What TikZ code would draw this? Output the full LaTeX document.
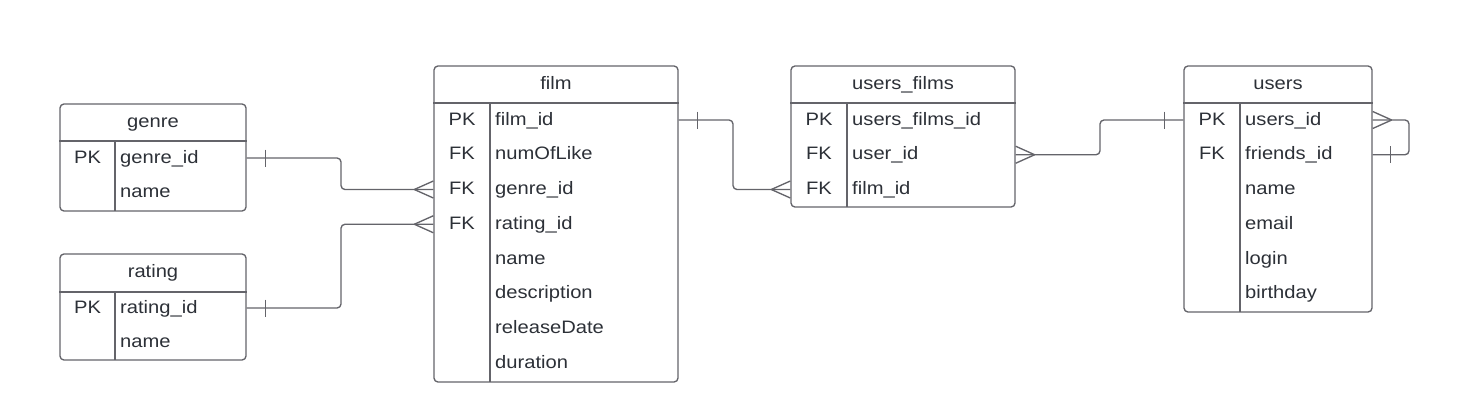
\documentclass[tikz,border=0pt]{standalone}
\usepackage{fontspec}
\setmainfont{Liberation Sans}[FakeStretch=1.12]
\usetikzlibrary{calc}
\definecolor{linec}{RGB}{100,100,106}
\definecolor{txtc}{RGB}{44,48,55}
\begin{document}
\begin{tikzpicture}[x=1pt,y=-1pt,
  tbl/.style={draw=linec,line width=1.35pt,rounded corners=4pt,inner sep=0pt},
  sep/.style={draw=linec,line width=1.35pt},
  conn/.style={draw=linec,line width=1.35pt,rounded corners=4pt},
  hdr/.style={anchor=base,inner sep=0pt,text=txtc,font=\fontsize{18}{21}\selectfont},
  fld/.style={anchor=west,inner sep=0pt,text height=14pt,text depth=4pt,text=txtc,font=\fontsize{18}{21}\selectfont},
  key/.style={anchor=center,inner sep=0pt,text height=14pt,text depth=4pt,text=txtc,font=\fontsize{18}{21}\selectfont},
  crow/.pic={\draw[conn] (-19,0) -- (0,8.5) (-19,0) -- (0,-8.5);},
  bar/.pic={\draw[conn] (0,-8.5) -- (0,8.5);}
]
\useasboundingbox (0,0) rectangle (1482,407);

% ---------- genre ----------
\node[tbl,minimum width=186pt,minimum height=107pt] (genre) at (153,157.5) {};
\draw[sep] (genre.west |- 0,141) -- (genre.east |- 0,141);
\draw[sep] (115,141) -- (115,211);
\node[hdr] (genreh) at (153,127) {genre};
\node[key] (gk1) at (87.5,158) {PK};
\node[fld] (g1) at (120,158) {genre\_id};
\node[fld] (g2) at (120,192.75) {name};

% ---------- rating ----------
\node[tbl,minimum width=186pt,minimum height=106pt] (rating) at (153,307) {};
\draw[sep] (rating.west |- 0,292) -- (rating.east |- 0,292);
\draw[sep] (115,292) -- (115,360);
\node[hdr] (ratingh) at (153,277.5) {rating};
\node[key] (rk1) at (87.5,308) {PK};
\node[fld] (r1) at (120,308) {rating\_id};
\node[fld] (r2) at (120,342.75) {name};

% ---------- film ----------
\node[tbl,minimum width=244pt,minimum height=316pt] (film) at (556,224) {};
\draw[sep] (film.west |- 0,103) -- (film.east |- 0,103);
\draw[sep] (490,103) -- (490,382);
\node[hdr] (filmh) at (556,89.5) {film};
\node[key] (fk1) at (462,120) {PK};
\node[key] (fk2) at (462,154.75) {FK};
\node[key] (fk3) at (462,189.5) {FK};
\node[key] (fk4) at (462,224.25) {FK};
\node[fld] (f1) at (495,120) {film\_id};
\node[fld] (f2) at (495,154.75) {numOfLike};
\node[fld] (f3) at (495,189.5) {genre\_id};
\node[fld] (f4) at (495,224.25) {rating\_id};
\node[fld] (f5) at (495,259) {name};
\node[fld] (f6) at (495,293.75) {description};
\node[fld] (f7) at (495,328.5) {releaseDate};
\node[fld] (f8) at (495,363.25) {duration};

% ---------- users_films ----------
\node[tbl,minimum width=224pt,minimum height=141pt] (uf) at (903,136.5) {};
\draw[sep] (uf.west |- 0,103) -- (uf.east |- 0,103);
\draw[sep] (847,103) -- (847,207);
\node[hdr] (ufh) at (903,89.5) {users\_films};
\node[key] (uk1) at (819,120) {PK};
\node[key] (uk2) at (819,154.75) {FK};
\node[key] (uk3) at (819,189.5) {FK};
\node[fld] (u1) at (852,120) {users\_films\_id};
\node[fld] (u2) at (852,154.75) {user\_id};
\node[fld] (u3) at (852,189.5) {film\_id};

% ---------- users ----------
\node[tbl,minimum width=188pt,minimum height=246pt] (users) at (1278,189) {};
\draw[sep] (users.west |- 0,103) -- (users.east |- 0,103);
\draw[sep] (1240,103) -- (1240,312);
\node[hdr] (usersh) at (1278,89.5) {users};
\node[key] (sk1) at (1212,120) {PK};
\node[key] (sk2) at (1212,154.75) {FK};
\node[fld] (s1) at (1245,120) {users\_id};
\node[fld] (s2) at (1245,154.75) {friends\_id};
\node[fld] (s3) at (1245,189.5) {name};
\node[fld] (s4) at (1245,224.25) {email};
\node[fld] (s5) at (1245,259) {login};
\node[fld] (s6) at (1245,293.75) {birthday};

% ---------- connectors ----------
\coordinate (j1) at (341,0);
\coordinate (j2) at (733,0);
\coordinate (j3) at (1100,0);
\coordinate (j4) at (1409,0);

\draw[conn] (genre.east |- g1) -| (j1 |- f3) -- (film.west |- f3);
\draw[conn] (rating.east |- r1) -| (j1 |- f4) -- (film.west |- f4);
\draw[conn] (film.east |- f1) -| (j2 |- u3) -- (uf.west |- u3);
\draw[conn] (uf.east |- u2) -| (j3 |- s1) -- (users.west |- s1);
\draw[conn] (users.east |- s1) -| (j4 |- s2) -- (users.east |- s2);

\pic at ($(genre.east |- g1)+(19,0)$) {bar};
\pic at ($(rating.east |- r1)+(19,0)$) {bar};
\pic at ($(film.east |- f1)+(19,0)$) {bar};
\pic at ($(users.west |- s1)+(-19,0)$) {bar};
\pic at ($(users.east |- s2)+(18,0)$) {bar};

\pic at (film.west |- f3) {crow};
\pic at (film.west |- f4) {crow};
\pic at (uf.west |- u3) {crow};
\pic[rotate=180] at (uf.east |- u2) {crow};
\pic[rotate=180] at (users.east |- s1) {crow};
\end{tikzpicture}
\end{document}
